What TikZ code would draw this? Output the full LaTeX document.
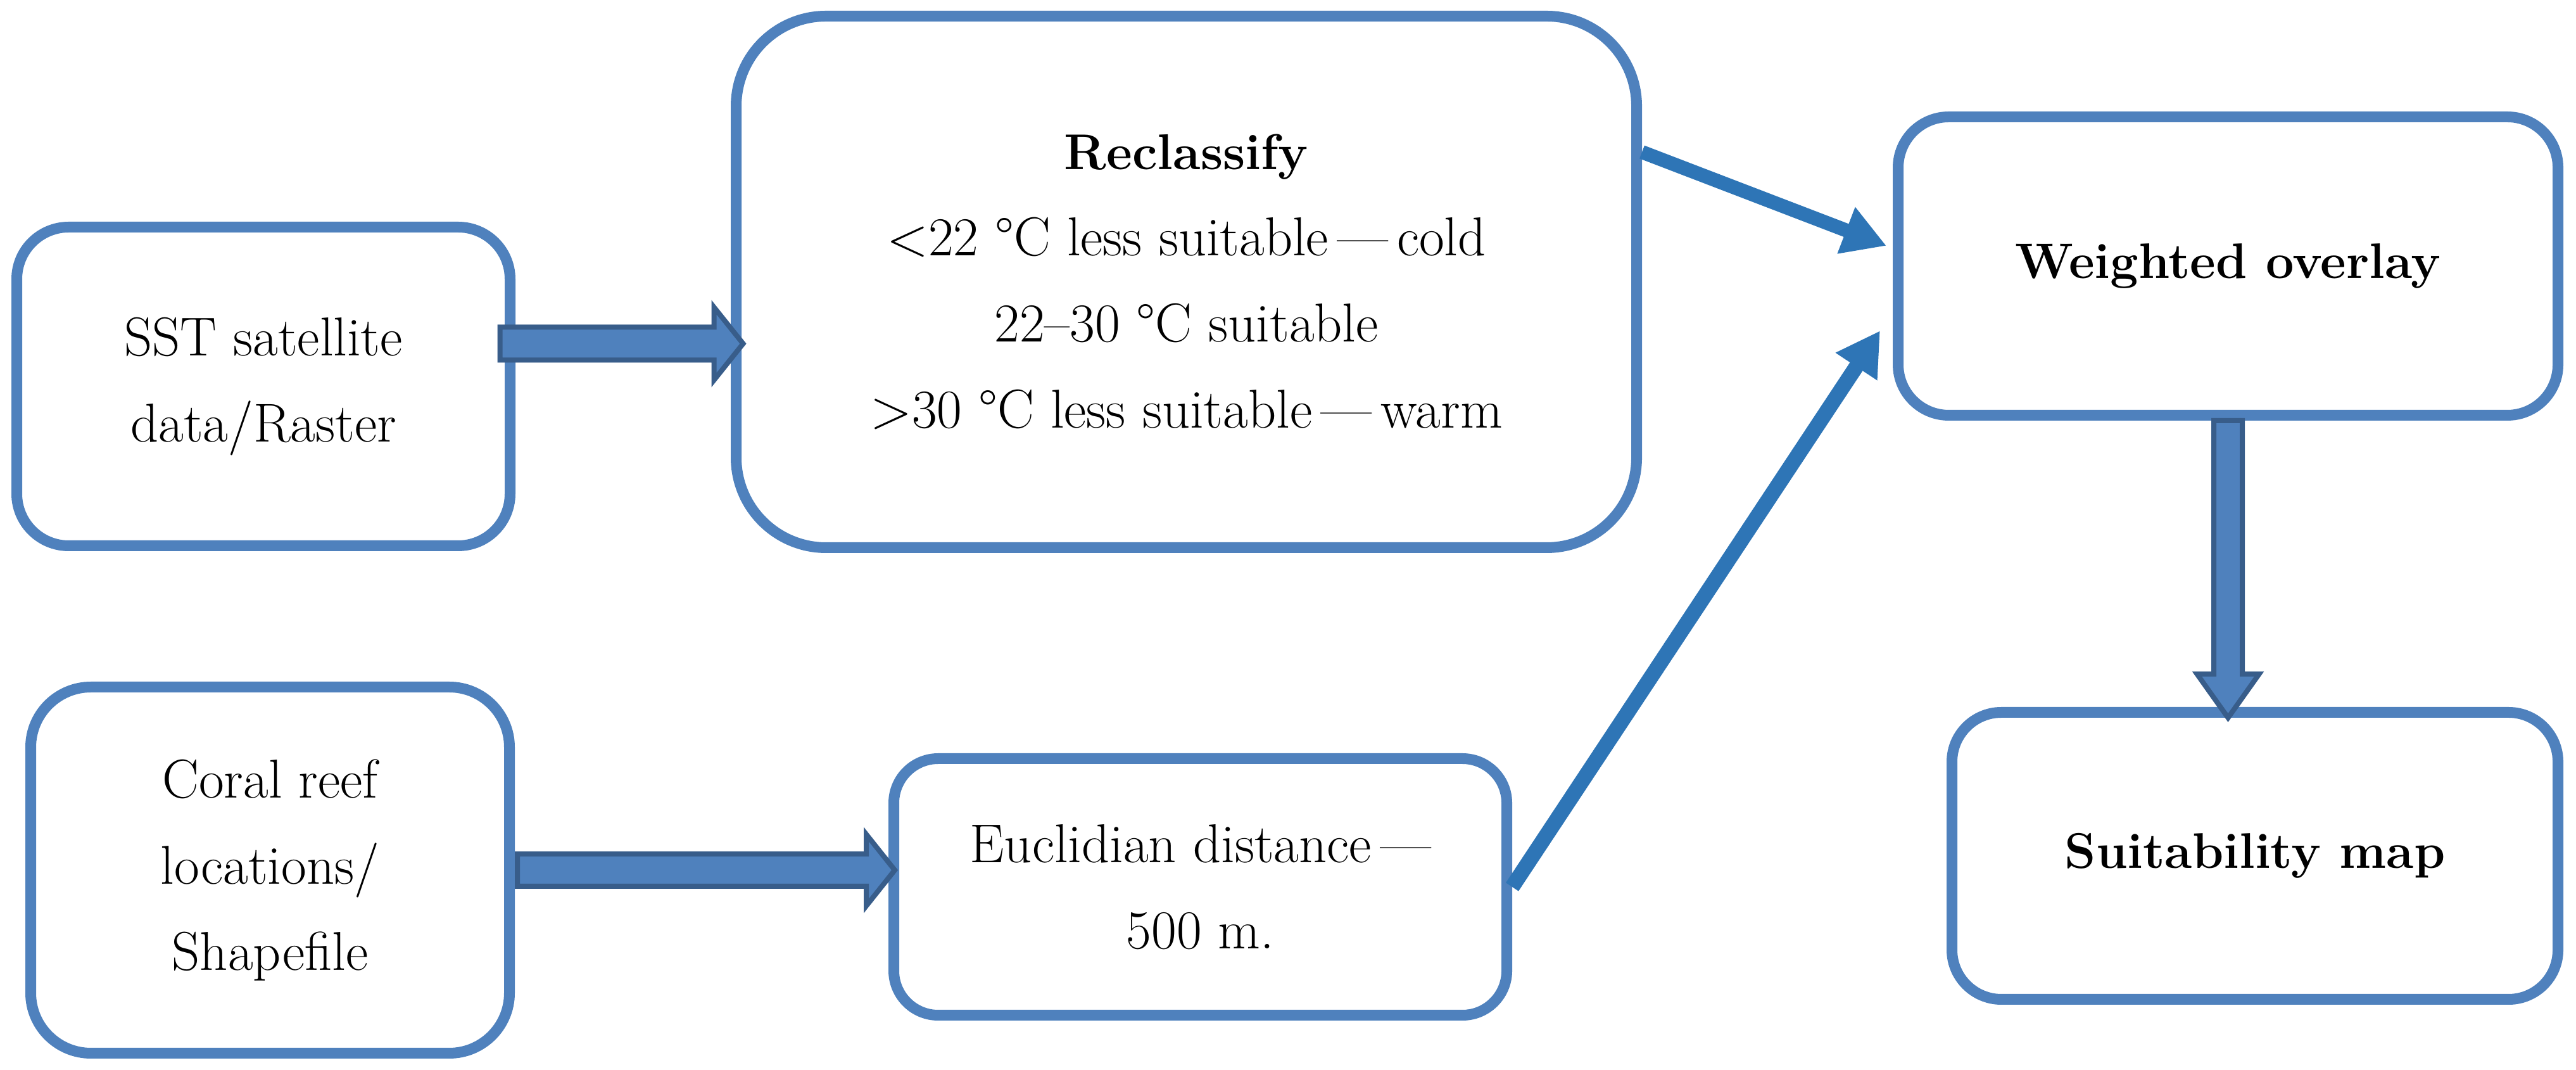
\documentclass[tikz,border=0pt]{standalone}
\usepackage{xcolor,tikz}
\usetikzlibrary{calc,positioning,arrows.meta}
\definecolor{boxblue}{HTML}{4F81BD}
\definecolor{arrowdark}{HTML}{385D8A}
\definecolor{linkblue}{HTML}{2E75B6}
\tikzset{>={Triangle[length=0.68cm,width=0.74cm]}}

\begin{document}
\begin{tikzpicture}[
  stagebox/.style={draw=boxblue, line width=0.17cm, rounded corners=#1, align=center,
    inner sep=0pt, font=\fontsize{24.6}{38.7}\selectfont},
  stagebox/.default=0.8cm,
  boldbox/.style={stagebox=#1, font=\fontsize{22.5}{38.7}\selectfont\bfseries},
  fatarrow/.style={draw=arrowdark, fill=boxblue, line width=0.08cm, line join=miter},
  link/.style={->, draw=linkblue, line width=0.22cm}
]
\useasboundingbox (0,0) rectangle (40.68,16.89);

% stages
\node[stagebox=0.82cm, minimum width=7.79cm, minimum height=5.03cm] (sst) at (4.16,10.79)
  {SST satellite\\data/Raster};
\node[stagebox=1.42cm, minimum width=14.22cm, minimum height=8.39cm] (recl) at (18.735,12.44)
  {{\fontsize{22.6}{38.7}\selectfont\bfseries Reclassify}\\<22 °C less suitable\,—\,cold\\
   22–30 °C suitable\\>30 °C less suitable\,—\,warm};
\node[boldbox=0.8cm, minimum width=10.42cm, minimum height=4.71cm] (wo) at (35.185,12.69)
  {Weighted overlay};
\node[boldbox=0.78cm, minimum width=9.57cm, minimum height=4.53cm] (suit) at (35.61,3.38)
  {Suitability map};
\node[stagebox=0.95cm, minimum width=7.56cm, minimum height=5.78cm] (coral) at (4.265,3.155)
  {Coral reef\\locations/\\Shapefile};
\node[stagebox=0.7cm, minimum width=9.68cm, minimum height=4.05cm] (eucl) at (18.955,2.89)
  {Euclidian distance\,—\\500 m.};

% block arrows (tail points)
\coordinate (sstarrow) at ($(sst.east)+(-0.245,0.675)$);
\coordinate (coralarrow) at ($(coral.east)+(0.04,0)$);
\coordinate (woarrow) at (wo.south);
\draw[fatarrow, shift={(sstarrow)}] (0,0.26) -- (3.38,0.26) -- (3.38,0.575) -- (3.84,0)
  -- (3.38,-0.575) -- (3.38,-0.26) -- (0,-0.26) -- cycle;
\draw[fatarrow, shift={(coralarrow)}] (0,0.255) -- (5.51,0.255) -- (5.51,0.565) -- (5.96,0)
  -- (5.51,-0.565) -- (5.51,-0.255) -- (0,-0.255) -- cycle;
\draw[fatarrow, shift={(woarrow)}, rotate=-90] (0,0.225) -- (4.0,0.225) -- (4.0,0.49) -- (4.69,0)
  -- (4.0,-0.49) -- (4.0,-0.225) -- (0,-0.225) -- cycle;

% links into the overlay
\draw[link] ($(recl.east)+(0,2.05)$) -- ($(wo.west)+(-0.1,0.32)$);
\draw[link, line width=0.24cm] (eucl.east) -- ($(wo.west)+(-0.2,-1.02)$);
\end{tikzpicture}
\end{document}
